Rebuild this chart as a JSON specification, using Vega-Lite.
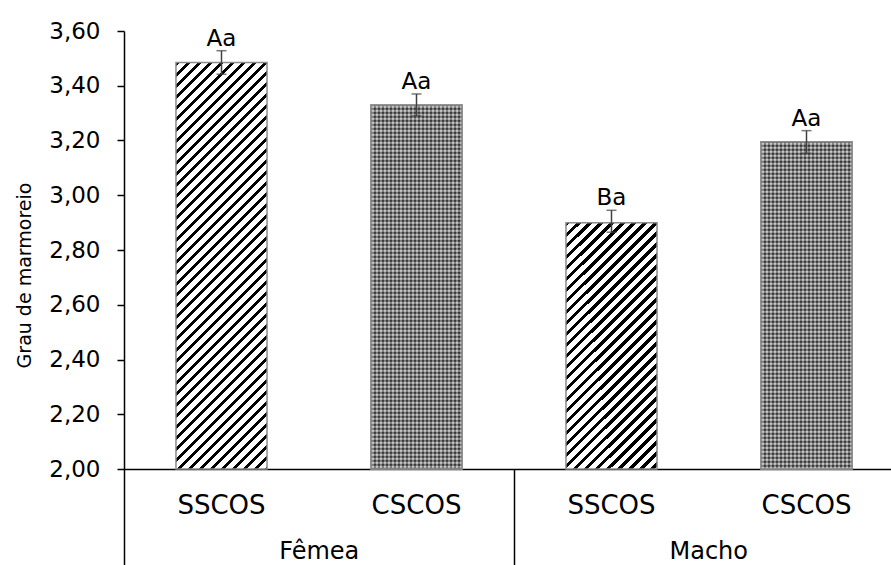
{
"$schema": "https://vega.github.io/schema/vega-lite/v6.json",
"autosize": {"type": "none"},
"width": 767,
"height": 438,
"padding": {"left": 124, "top": 31, "right": 0, "bottom": 96},
"background": "white",
"config": {"view": {"stroke": null}, "font": "DejaVu Sans"},
"data": {"values": [
{"key": "Fêmea|SSCOS", "sex": "Fêmea", "trat": "SSCOS", "value": 3.485, "lo": 3.442, "hi": 3.528, "label": "Aa"},
{"key": "Fêmea|CSCOS", "sex": "Fêmea", "trat": "CSCOS", "value": 3.33, "lo": 3.29, "hi": 3.37, "label": "Aa"},
{"key": "Macho|SSCOS", "sex": "Macho", "trat": "SSCOS", "value": 2.90, "lo": 2.865, "hi": 2.945, "label": "Ba"},
{"key": "Macho|CSCOS", "sex": "Macho", "trat": "CSCOS", "value": 3.195, "lo": 3.153, "hi": 3.236, "label": "Aa"}
]},
"layer": [
{
"encoding": {
"x": {"field": "key", "type": "nominal", "sort": null,
 "scale": {"domain": ["Fêmea|SSCOS", "Fêmea|CSCOS", "Macho|SSCOS", "Macho|CSCOS"], "range": [0, 780], "paddingInner": 0.533, "paddingOuter": 0.2665},
 "axis": {"orient": "bottom", "title": null, "labelExpr": "split(datum.value, '|')[1]", "labelAngle": 0, "labelFontSize": 26, "labelFont": "DejaVu Sans", "labelColor": "#000", "labelPadding": 23, "ticks": false, "tickSize": 0, "domain": true, "domainColor": "#000", "domainWidth": 1.5, "grid": false}},
"y": {"field": "value", "type": "quantitative",
 "scale": {"domain": [2, 3.6], "nice": false, "zero": false},
 "axis": {"values": [2, 2.2, 2.4, 2.6, 2.8, 3, 3.2, 3.4, 3.6], "labelExpr": "replace(format(datum.value, '.2f'), '.', ',')", "labelFontSize": 23, "labelFont": "DejaVu Sans", "labelColor": "#000", "labelPadding": 17, "tickSize": 7, "tickColor": "#000", "tickWidth": 1.5, "domainColor": "#000", "domainWidth": 1.5, "grid": false, "title": "Grau de marmoreio", "titleFontSize": 19, "titleFont": "DejaVu Sans", "titleFontWeight": "normal", "titleColor": "#000", "titleX": -90, "titleY": 244, "titleAngle": -90, "titleAlign": "center", "titleBaseline": "bottom"}}
},
"layer": [
{"transform": [{"filter": "datum.key === 'Fêmea|SSCOS'"}],
 "mark": {"type": "bar", "stroke": "#8c8c8c", "strokeWidth": 1.5, "fill": {"gradient": "linear", "x1": 0, "y1": 0, "x2": 0.28843, "y2": 1.28845, "stops": [
{"offset":0,"color":"#000"},{"offset":0.008,"color":"#000"},{"offset":0.008,"color":"#fff"},{"offset":0.02,"color":"#fff"},
{"offset":0.02,"color":"#000"},{"offset":0.028,"color":"#000"},{"offset":0.028,"color":"#fff"},{"offset":0.04,"color":"#fff"},
{"offset":0.04,"color":"#000"},{"offset":0.048,"color":"#000"},{"offset":0.048,"color":"#fff"},{"offset":0.06,"color":"#fff"},
{"offset":0.06,"color":"#000"},{"offset":0.068,"color":"#000"},{"offset":0.068,"color":"#fff"},{"offset":0.08,"color":"#fff"},
{"offset":0.08,"color":"#000"},{"offset":0.088,"color":"#000"},{"offset":0.088,"color":"#fff"},{"offset":0.1,"color":"#fff"},
{"offset":0.1,"color":"#000"},{"offset":0.108,"color":"#000"},{"offset":0.108,"color":"#fff"},{"offset":0.12,"color":"#fff"},
{"offset":0.12,"color":"#000"},{"offset":0.128,"color":"#000"},{"offset":0.128,"color":"#fff"},{"offset":0.14,"color":"#fff"},
{"offset":0.14,"color":"#000"},{"offset":0.148,"color":"#000"},{"offset":0.148,"color":"#fff"},{"offset":0.16,"color":"#fff"},
{"offset":0.16,"color":"#000"},{"offset":0.168,"color":"#000"},{"offset":0.168,"color":"#fff"},{"offset":0.18,"color":"#fff"},
{"offset":0.18,"color":"#000"},{"offset":0.188,"color":"#000"},{"offset":0.188,"color":"#fff"},{"offset":0.2,"color":"#fff"},
{"offset":0.2,"color":"#000"},{"offset":0.208,"color":"#000"},{"offset":0.208,"color":"#fff"},{"offset":0.22,"color":"#fff"},
{"offset":0.22,"color":"#000"},{"offset":0.228,"color":"#000"},{"offset":0.228,"color":"#fff"},{"offset":0.24,"color":"#fff"},
{"offset":0.24,"color":"#000"},{"offset":0.248,"color":"#000"},{"offset":0.248,"color":"#fff"},{"offset":0.26,"color":"#fff"},
{"offset":0.26,"color":"#000"},{"offset":0.268,"color":"#000"},{"offset":0.268,"color":"#fff"},{"offset":0.28,"color":"#fff"},
{"offset":0.28,"color":"#000"},{"offset":0.288,"color":"#000"},{"offset":0.288,"color":"#fff"},{"offset":0.3,"color":"#fff"},
{"offset":0.3,"color":"#000"},{"offset":0.308,"color":"#000"},{"offset":0.308,"color":"#fff"},{"offset":0.32,"color":"#fff"},
{"offset":0.32,"color":"#000"},{"offset":0.328,"color":"#000"},{"offset":0.328,"color":"#fff"},{"offset":0.34,"color":"#fff"},
{"offset":0.34,"color":"#000"},{"offset":0.348,"color":"#000"},{"offset":0.348,"color":"#fff"},{"offset":0.36,"color":"#fff"},
{"offset":0.36,"color":"#000"},{"offset":0.368,"color":"#000"},{"offset":0.368,"color":"#fff"},{"offset":0.38,"color":"#fff"},
{"offset":0.38,"color":"#000"},{"offset":0.388,"color":"#000"},{"offset":0.388,"color":"#fff"},{"offset":0.4,"color":"#fff"},
{"offset":0.4,"color":"#000"},{"offset":0.408,"color":"#000"},{"offset":0.408,"color":"#fff"},{"offset":0.42,"color":"#fff"},
{"offset":0.42,"color":"#000"},{"offset":0.428,"color":"#000"},{"offset":0.428,"color":"#fff"},{"offset":0.44,"color":"#fff"},
{"offset":0.44,"color":"#000"},{"offset":0.448,"color":"#000"},{"offset":0.448,"color":"#fff"},{"offset":0.46,"color":"#fff"},
{"offset":0.46,"color":"#000"},{"offset":0.468,"color":"#000"},{"offset":0.468,"color":"#fff"},{"offset":0.48,"color":"#fff"},
{"offset":0.48,"color":"#000"},{"offset":0.488,"color":"#000"},{"offset":0.488,"color":"#fff"},{"offset":0.5,"color":"#fff"},
{"offset":0.5,"color":"#000"},{"offset":0.508,"color":"#000"},{"offset":0.508,"color":"#fff"},{"offset":0.52,"color":"#fff"},
{"offset":0.52,"color":"#000"},{"offset":0.528,"color":"#000"},{"offset":0.528,"color":"#fff"},{"offset":0.54,"color":"#fff"},
{"offset":0.54,"color":"#000"},{"offset":0.548,"color":"#000"},{"offset":0.548,"color":"#fff"},{"offset":0.56,"color":"#fff"},
{"offset":0.56,"color":"#000"},{"offset":0.568,"color":"#000"},{"offset":0.568,"color":"#fff"},{"offset":0.58,"color":"#fff"},
{"offset":0.58,"color":"#000"},{"offset":0.588,"color":"#000"},{"offset":0.588,"color":"#fff"},{"offset":0.6,"color":"#fff"},
{"offset":0.6,"color":"#000"},{"offset":0.608,"color":"#000"},{"offset":0.608,"color":"#fff"},{"offset":0.62,"color":"#fff"},
{"offset":0.62,"color":"#000"},{"offset":0.628,"color":"#000"},{"offset":0.628,"color":"#fff"},{"offset":0.64,"color":"#fff"},
{"offset":0.64,"color":"#000"},{"offset":0.648,"color":"#000"},{"offset":0.648,"color":"#fff"},{"offset":0.66,"color":"#fff"},
{"offset":0.66,"color":"#000"},{"offset":0.668,"color":"#000"},{"offset":0.668,"color":"#fff"},{"offset":0.68,"color":"#fff"},
{"offset":0.68,"color":"#000"},{"offset":0.688,"color":"#000"},{"offset":0.688,"color":"#fff"},{"offset":0.7,"color":"#fff"},
{"offset":0.7,"color":"#000"},{"offset":0.708,"color":"#000"},{"offset":0.708,"color":"#fff"},{"offset":0.72,"color":"#fff"},
{"offset":0.72,"color":"#000"},{"offset":0.728,"color":"#000"},{"offset":0.728,"color":"#fff"},{"offset":0.74,"color":"#fff"},
{"offset":0.74,"color":"#000"},{"offset":0.748,"color":"#000"},{"offset":0.748,"color":"#fff"},{"offset":0.76,"color":"#fff"},
{"offset":0.76,"color":"#000"},{"offset":0.768,"color":"#000"},{"offset":0.768,"color":"#fff"},{"offset":0.78,"color":"#fff"},
{"offset":0.78,"color":"#000"},{"offset":0.788,"color":"#000"},{"offset":0.788,"color":"#fff"},{"offset":0.8,"color":"#fff"},
{"offset":0.8,"color":"#000"},{"offset":0.808,"color":"#000"},{"offset":0.808,"color":"#fff"},{"offset":0.82,"color":"#fff"},
{"offset":0.82,"color":"#000"},{"offset":0.828,"color":"#000"},{"offset":0.828,"color":"#fff"},{"offset":0.84,"color":"#fff"},
{"offset":0.84,"color":"#000"},{"offset":0.848,"color":"#000"},{"offset":0.848,"color":"#fff"},{"offset":0.86,"color":"#fff"},
{"offset":0.86,"color":"#000"},{"offset":0.868,"color":"#000"},{"offset":0.868,"color":"#fff"},{"offset":0.88,"color":"#fff"},
{"offset":0.88,"color":"#000"},{"offset":0.888,"color":"#000"},{"offset":0.888,"color":"#fff"},{"offset":0.9,"color":"#fff"},
{"offset":0.9,"color":"#000"},{"offset":0.908,"color":"#000"},{"offset":0.908,"color":"#fff"},{"offset":0.92,"color":"#fff"}
 ]}},
 "encoding": {"y2": {"datum": 2}}},
{"transform": [{"filter": "datum.key === 'Macho|SSCOS'"}],
 "mark": {"type": "bar", "stroke": "#8c8c8c", "strokeWidth": 1.5, "fill": {"gradient": "linear", "x1": 0, "y1": 0, "x2": 0.72542, "y2": 1.96423, "stops": [
{"offset":0,"color":"#000"},{"offset":0.008,"color":"#000"},{"offset":0.008,"color":"#fff"},{"offset":0.02,"color":"#fff"},
{"offset":0.02,"color":"#000"},{"offset":0.028,"color":"#000"},{"offset":0.028,"color":"#fff"},{"offset":0.04,"color":"#fff"},
{"offset":0.04,"color":"#000"},{"offset":0.048,"color":"#000"},{"offset":0.048,"color":"#fff"},{"offset":0.06,"color":"#fff"},
{"offset":0.06,"color":"#000"},{"offset":0.068,"color":"#000"},{"offset":0.068,"color":"#fff"},{"offset":0.08,"color":"#fff"},
{"offset":0.08,"color":"#000"},{"offset":0.088,"color":"#000"},{"offset":0.088,"color":"#fff"},{"offset":0.1,"color":"#fff"},
{"offset":0.1,"color":"#000"},{"offset":0.108,"color":"#000"},{"offset":0.108,"color":"#fff"},{"offset":0.12,"color":"#fff"},
{"offset":0.12,"color":"#000"},{"offset":0.128,"color":"#000"},{"offset":0.128,"color":"#fff"},{"offset":0.14,"color":"#fff"},
{"offset":0.14,"color":"#000"},{"offset":0.148,"color":"#000"},{"offset":0.148,"color":"#fff"},{"offset":0.16,"color":"#fff"},
{"offset":0.16,"color":"#000"},{"offset":0.168,"color":"#000"},{"offset":0.168,"color":"#fff"},{"offset":0.18,"color":"#fff"},
{"offset":0.18,"color":"#000"},{"offset":0.188,"color":"#000"},{"offset":0.188,"color":"#fff"},{"offset":0.2,"color":"#fff"},
{"offset":0.2,"color":"#000"},{"offset":0.208,"color":"#000"},{"offset":0.208,"color":"#fff"},{"offset":0.22,"color":"#fff"},
{"offset":0.22,"color":"#000"},{"offset":0.228,"color":"#000"},{"offset":0.228,"color":"#fff"},{"offset":0.24,"color":"#fff"},
{"offset":0.24,"color":"#000"},{"offset":0.248,"color":"#000"},{"offset":0.248,"color":"#fff"},{"offset":0.26,"color":"#fff"},
{"offset":0.26,"color":"#000"},{"offset":0.268,"color":"#000"},{"offset":0.268,"color":"#fff"},{"offset":0.28,"color":"#fff"},
{"offset":0.28,"color":"#000"},{"offset":0.288,"color":"#000"},{"offset":0.288,"color":"#fff"},{"offset":0.3,"color":"#fff"},
{"offset":0.3,"color":"#000"},{"offset":0.308,"color":"#000"},{"offset":0.308,"color":"#fff"},{"offset":0.32,"color":"#fff"},
{"offset":0.32,"color":"#000"},{"offset":0.328,"color":"#000"},{"offset":0.328,"color":"#fff"},{"offset":0.34,"color":"#fff"},
{"offset":0.34,"color":"#000"},{"offset":0.348,"color":"#000"},{"offset":0.348,"color":"#fff"},{"offset":0.36,"color":"#fff"},
{"offset":0.36,"color":"#000"},{"offset":0.368,"color":"#000"},{"offset":0.368,"color":"#fff"},{"offset":0.38,"color":"#fff"},
{"offset":0.38,"color":"#000"},{"offset":0.388,"color":"#000"},{"offset":0.388,"color":"#fff"},{"offset":0.4,"color":"#fff"},
{"offset":0.4,"color":"#000"},{"offset":0.408,"color":"#000"},{"offset":0.408,"color":"#fff"},{"offset":0.42,"color":"#fff"},
{"offset":0.42,"color":"#000"},{"offset":0.428,"color":"#000"},{"offset":0.428,"color":"#fff"},{"offset":0.44,"color":"#fff"},
{"offset":0.44,"color":"#000"},{"offset":0.448,"color":"#000"},{"offset":0.448,"color":"#fff"},{"offset":0.46,"color":"#fff"},
{"offset":0.46,"color":"#000"},{"offset":0.468,"color":"#000"},{"offset":0.468,"color":"#fff"},{"offset":0.48,"color":"#fff"},
{"offset":0.48,"color":"#000"},{"offset":0.488,"color":"#000"},{"offset":0.488,"color":"#fff"},{"offset":0.5,"color":"#fff"},
{"offset":0.5,"color":"#000"},{"offset":0.508,"color":"#000"},{"offset":0.508,"color":"#fff"},{"offset":0.52,"color":"#fff"},
{"offset":0.52,"color":"#000"},{"offset":0.528,"color":"#000"},{"offset":0.528,"color":"#fff"},{"offset":0.54,"color":"#fff"},
{"offset":0.54,"color":"#000"},{"offset":0.548,"color":"#000"},{"offset":0.548,"color":"#fff"},{"offset":0.56,"color":"#fff"},
{"offset":0.56,"color":"#000"},{"offset":0.568,"color":"#000"},{"offset":0.568,"color":"#fff"},{"offset":0.58,"color":"#fff"},
{"offset":0.58,"color":"#000"},{"offset":0.588,"color":"#000"},{"offset":0.588,"color":"#fff"},{"offset":0.6,"color":"#fff"},
{"offset":0.6,"color":"#000"},{"offset":0.608,"color":"#000"},{"offset":0.608,"color":"#fff"},{"offset":0.62,"color":"#fff"},
{"offset":0.62,"color":"#000"},{"offset":0.628,"color":"#000"},{"offset":0.628,"color":"#fff"},{"offset":0.64,"color":"#fff"},
{"offset":0.64,"color":"#000"},{"offset":0.648,"color":"#000"},{"offset":0.648,"color":"#fff"},{"offset":0.66,"color":"#fff"},
{"offset":0.66,"color":"#000"},{"offset":0.668,"color":"#000"},{"offset":0.668,"color":"#fff"},{"offset":0.68,"color":"#fff"},
{"offset":0.68,"color":"#000"},{"offset":0.688,"color":"#000"},{"offset":0.688,"color":"#fff"},{"offset":0.7,"color":"#fff"},
{"offset":0.7,"color":"#000"},{"offset":0.708,"color":"#000"},{"offset":0.708,"color":"#fff"},{"offset":0.72,"color":"#fff"},
{"offset":0.72,"color":"#000"},{"offset":0.728,"color":"#000"},{"offset":0.728,"color":"#fff"},{"offset":0.74,"color":"#fff"},
{"offset":0.74,"color":"#000"},{"offset":0.748,"color":"#000"},{"offset":0.748,"color":"#fff"},{"offset":0.76,"color":"#fff"},
{"offset":0.76,"color":"#000"},{"offset":0.768,"color":"#000"},{"offset":0.768,"color":"#fff"},{"offset":0.78,"color":"#fff"},
{"offset":0.78,"color":"#000"},{"offset":0.788,"color":"#000"},{"offset":0.788,"color":"#fff"},{"offset":0.8,"color":"#fff"},
{"offset":0.8,"color":"#000"},{"offset":0.808,"color":"#000"},{"offset":0.808,"color":"#fff"},{"offset":0.82,"color":"#fff"},
{"offset":0.82,"color":"#000"},{"offset":0.828,"color":"#000"},{"offset":0.828,"color":"#fff"},{"offset":0.84,"color":"#fff"},
{"offset":0.84,"color":"#000"},{"offset":0.848,"color":"#000"},{"offset":0.848,"color":"#fff"},{"offset":0.86,"color":"#fff"},
{"offset":0.86,"color":"#000"},{"offset":0.868,"color":"#000"},{"offset":0.868,"color":"#fff"},{"offset":0.88,"color":"#fff"},
{"offset":0.88,"color":"#000"},{"offset":0.888,"color":"#000"},{"offset":0.888,"color":"#fff"},{"offset":0.9,"color":"#fff"},
{"offset":0.9,"color":"#000"},{"offset":0.908,"color":"#000"},{"offset":0.908,"color":"#fff"},{"offset":0.92,"color":"#fff"}
 ]}},
 "encoding": {"y2": {"datum": 2}}},
{"transform": [{"filter": "datum.trat === 'CSCOS'"}],
 "mark": {"type": "bar", "stroke": "#8c8c8c", "strokeWidth": 1.5, "fill": {"gradient": "linear", "x1": 0, "y1": 0, "x2": 1.0989, "y2": 0, "stops": [
{"offset":0,"color":"#000"},{"offset":0.02,"color":"#fff"},{"offset":0.04,"color":"#000"},{"offset":0.06,"color":"#fff"},{"offset":0.08,"color":"#000"},
{"offset":0.1,"color":"#fff"},{"offset":0.12,"color":"#000"},{"offset":0.14,"color":"#fff"},{"offset":0.16,"color":"#000"},{"offset":0.18,"color":"#fff"},
{"offset":0.2,"color":"#000"},{"offset":0.22,"color":"#fff"},{"offset":0.24,"color":"#000"},{"offset":0.26,"color":"#fff"},{"offset":0.28,"color":"#000"},
{"offset":0.3,"color":"#fff"},{"offset":0.32,"color":"#000"},{"offset":0.34,"color":"#fff"},{"offset":0.36,"color":"#000"},{"offset":0.38,"color":"#fff"},
{"offset":0.4,"color":"#000"},{"offset":0.42,"color":"#fff"},{"offset":0.44,"color":"#000"},{"offset":0.46,"color":"#fff"},{"offset":0.48,"color":"#000"},
{"offset":0.5,"color":"#fff"},{"offset":0.52,"color":"#000"},{"offset":0.54,"color":"#fff"},{"offset":0.56,"color":"#000"},{"offset":0.58,"color":"#fff"},
{"offset":0.6,"color":"#000"},{"offset":0.62,"color":"#fff"},{"offset":0.64,"color":"#000"},{"offset":0.66,"color":"#fff"},{"offset":0.68,"color":"#000"},
{"offset":0.7,"color":"#fff"},{"offset":0.72,"color":"#000"},{"offset":0.74,"color":"#fff"},{"offset":0.76,"color":"#000"},{"offset":0.78,"color":"#fff"},
{"offset":0.8,"color":"#000"},{"offset":0.82,"color":"#fff"},{"offset":0.84,"color":"#000"},{"offset":0.86,"color":"#fff"},{"offset":0.88,"color":"#000"},
{"offset":0.9,"color":"#fff"},{"offset":0.92,"color":"#000"},{"offset":0.94,"color":"#fff"},{"offset":0.96,"color":"#000"},{"offset":0.98,"color":"#fff"},
{"offset":1,"color":"#000"}
 ]}},
 "encoding": {"y2": {"datum": 2}}},
{"transform": [{"filter": "datum.key === 'Fêmea|CSCOS'"}],
 "mark": {"type": "bar", "stroke": "#8c8c8c", "strokeWidth": 1.5, "fillOpacity": 0.5, "fill": {"gradient": "linear", "x1": 0, "y1": 0, "x2": 0, "y2": 1.0986, "stops": [
{"offset":0,"color":"#000"},{"offset":0.005,"color":"#fff"},{"offset":0.01,"color":"#000"},{"offset":0.015,"color":"#fff"},{"offset":0.02,"color":"#000"},{"offset":0.025,"color":"#fff"},{"offset":0.03,"color":"#000"},{"offset":0.035,"color":"#fff"},{"offset":0.04,"color":"#000"},{"offset":0.045,"color":"#fff"},
{"offset":0.05,"color":"#000"},{"offset":0.055,"color":"#fff"},{"offset":0.06,"color":"#000"},{"offset":0.065,"color":"#fff"},{"offset":0.07,"color":"#000"},{"offset":0.075,"color":"#fff"},{"offset":0.08,"color":"#000"},{"offset":0.085,"color":"#fff"},{"offset":0.09,"color":"#000"},{"offset":0.095,"color":"#fff"},
{"offset":0.1,"color":"#000"},{"offset":0.105,"color":"#fff"},{"offset":0.11,"color":"#000"},{"offset":0.115,"color":"#fff"},{"offset":0.12,"color":"#000"},{"offset":0.125,"color":"#fff"},{"offset":0.13,"color":"#000"},{"offset":0.135,"color":"#fff"},{"offset":0.14,"color":"#000"},{"offset":0.145,"color":"#fff"},
{"offset":0.15,"color":"#000"},{"offset":0.155,"color":"#fff"},{"offset":0.16,"color":"#000"},{"offset":0.165,"color":"#fff"},{"offset":0.17,"color":"#000"},{"offset":0.175,"color":"#fff"},{"offset":0.18,"color":"#000"},{"offset":0.185,"color":"#fff"},{"offset":0.19,"color":"#000"},{"offset":0.195,"color":"#fff"},
{"offset":0.2,"color":"#000"},{"offset":0.205,"color":"#fff"},{"offset":0.21,"color":"#000"},{"offset":0.215,"color":"#fff"},{"offset":0.22,"color":"#000"},{"offset":0.225,"color":"#fff"},{"offset":0.23,"color":"#000"},{"offset":0.235,"color":"#fff"},{"offset":0.24,"color":"#000"},{"offset":0.245,"color":"#fff"},
{"offset":0.25,"color":"#000"},{"offset":0.255,"color":"#fff"},{"offset":0.26,"color":"#000"},{"offset":0.265,"color":"#fff"},{"offset":0.27,"color":"#000"},{"offset":0.275,"color":"#fff"},{"offset":0.28,"color":"#000"},{"offset":0.285,"color":"#fff"},{"offset":0.29,"color":"#000"},{"offset":0.295,"color":"#fff"},
{"offset":0.3,"color":"#000"},{"offset":0.305,"color":"#fff"},{"offset":0.31,"color":"#000"},{"offset":0.315,"color":"#fff"},{"offset":0.32,"color":"#000"},{"offset":0.325,"color":"#fff"},{"offset":0.33,"color":"#000"},{"offset":0.335,"color":"#fff"},{"offset":0.34,"color":"#000"},{"offset":0.345,"color":"#fff"},
{"offset":0.35,"color":"#000"},{"offset":0.355,"color":"#fff"},{"offset":0.36,"color":"#000"},{"offset":0.365,"color":"#fff"},{"offset":0.37,"color":"#000"},{"offset":0.375,"color":"#fff"},{"offset":0.38,"color":"#000"},{"offset":0.385,"color":"#fff"},{"offset":0.39,"color":"#000"},{"offset":0.395,"color":"#fff"},
{"offset":0.4,"color":"#000"},{"offset":0.405,"color":"#fff"},{"offset":0.41,"color":"#000"},{"offset":0.415,"color":"#fff"},{"offset":0.42,"color":"#000"},{"offset":0.425,"color":"#fff"},{"offset":0.43,"color":"#000"},{"offset":0.435,"color":"#fff"},{"offset":0.44,"color":"#000"},{"offset":0.445,"color":"#fff"},
{"offset":0.45,"color":"#000"},{"offset":0.455,"color":"#fff"},{"offset":0.46,"color":"#000"},{"offset":0.465,"color":"#fff"},{"offset":0.47,"color":"#000"},{"offset":0.475,"color":"#fff"},{"offset":0.48,"color":"#000"},{"offset":0.485,"color":"#fff"},{"offset":0.49,"color":"#000"},{"offset":0.495,"color":"#fff"},
{"offset":0.5,"color":"#000"},{"offset":0.505,"color":"#fff"},{"offset":0.51,"color":"#000"},{"offset":0.515,"color":"#fff"},{"offset":0.52,"color":"#000"},{"offset":0.525,"color":"#fff"},{"offset":0.53,"color":"#000"},{"offset":0.535,"color":"#fff"},{"offset":0.54,"color":"#000"},{"offset":0.545,"color":"#fff"},
{"offset":0.55,"color":"#000"},{"offset":0.555,"color":"#fff"},{"offset":0.56,"color":"#000"},{"offset":0.565,"color":"#fff"},{"offset":0.57,"color":"#000"},{"offset":0.575,"color":"#fff"},{"offset":0.58,"color":"#000"},{"offset":0.585,"color":"#fff"},{"offset":0.59,"color":"#000"},{"offset":0.595,"color":"#fff"},
{"offset":0.6,"color":"#000"},{"offset":0.605,"color":"#fff"},{"offset":0.61,"color":"#000"},{"offset":0.615,"color":"#fff"},{"offset":0.62,"color":"#000"},{"offset":0.625,"color":"#fff"},{"offset":0.63,"color":"#000"},{"offset":0.635,"color":"#fff"},{"offset":0.64,"color":"#000"},{"offset":0.645,"color":"#fff"},
{"offset":0.65,"color":"#000"},{"offset":0.655,"color":"#fff"},{"offset":0.66,"color":"#000"},{"offset":0.665,"color":"#fff"},{"offset":0.67,"color":"#000"},{"offset":0.675,"color":"#fff"},{"offset":0.68,"color":"#000"},{"offset":0.685,"color":"#fff"},{"offset":0.69,"color":"#000"},{"offset":0.695,"color":"#fff"},
{"offset":0.7,"color":"#000"},{"offset":0.705,"color":"#fff"},{"offset":0.71,"color":"#000"},{"offset":0.715,"color":"#fff"},{"offset":0.72,"color":"#000"},{"offset":0.725,"color":"#fff"},{"offset":0.73,"color":"#000"},{"offset":0.735,"color":"#fff"},{"offset":0.74,"color":"#000"},{"offset":0.745,"color":"#fff"},
{"offset":0.75,"color":"#000"},{"offset":0.755,"color":"#fff"},{"offset":0.76,"color":"#000"},{"offset":0.765,"color":"#fff"},{"offset":0.77,"color":"#000"},{"offset":0.775,"color":"#fff"},{"offset":0.78,"color":"#000"},{"offset":0.785,"color":"#fff"},{"offset":0.79,"color":"#000"},{"offset":0.795,"color":"#fff"},
{"offset":0.8,"color":"#000"},{"offset":0.805,"color":"#fff"},{"offset":0.81,"color":"#000"},{"offset":0.815,"color":"#fff"},{"offset":0.82,"color":"#000"},{"offset":0.825,"color":"#fff"},{"offset":0.83,"color":"#000"},{"offset":0.835,"color":"#fff"},{"offset":0.84,"color":"#000"},{"offset":0.845,"color":"#fff"},
{"offset":0.85,"color":"#000"},{"offset":0.855,"color":"#fff"},{"offset":0.86,"color":"#000"},{"offset":0.865,"color":"#fff"},{"offset":0.87,"color":"#000"},{"offset":0.875,"color":"#fff"},{"offset":0.88,"color":"#000"},{"offset":0.885,"color":"#fff"},{"offset":0.89,"color":"#000"},{"offset":0.895,"color":"#fff"},
{"offset":0.9,"color":"#000"},{"offset":0.905,"color":"#fff"},{"offset":0.91,"color":"#000"},{"offset":0.915,"color":"#fff"},{"offset":0.92,"color":"#000"}
 ]}},
 "encoding": {"y2": {"datum": 2}}},
{"transform": [{"filter": "datum.key === 'Macho|CSCOS'"}],
 "mark": {"type": "bar", "stroke": "#8c8c8c", "strokeWidth": 1.5, "fillOpacity": 0.5, "fill": {"gradient": "linear", "x1": 0, "y1": 0, "x2": 0, "y2": 1.2229, "stops": [
{"offset":0,"color":"#000"},{"offset":0.005,"color":"#fff"},{"offset":0.01,"color":"#000"},{"offset":0.015,"color":"#fff"},{"offset":0.02,"color":"#000"},{"offset":0.025,"color":"#fff"},{"offset":0.03,"color":"#000"},{"offset":0.035,"color":"#fff"},{"offset":0.04,"color":"#000"},{"offset":0.045,"color":"#fff"},
{"offset":0.05,"color":"#000"},{"offset":0.055,"color":"#fff"},{"offset":0.06,"color":"#000"},{"offset":0.065,"color":"#fff"},{"offset":0.07,"color":"#000"},{"offset":0.075,"color":"#fff"},{"offset":0.08,"color":"#000"},{"offset":0.085,"color":"#fff"},{"offset":0.09,"color":"#000"},{"offset":0.095,"color":"#fff"},
{"offset":0.1,"color":"#000"},{"offset":0.105,"color":"#fff"},{"offset":0.11,"color":"#000"},{"offset":0.115,"color":"#fff"},{"offset":0.12,"color":"#000"},{"offset":0.125,"color":"#fff"},{"offset":0.13,"color":"#000"},{"offset":0.135,"color":"#fff"},{"offset":0.14,"color":"#000"},{"offset":0.145,"color":"#fff"},
{"offset":0.15,"color":"#000"},{"offset":0.155,"color":"#fff"},{"offset":0.16,"color":"#000"},{"offset":0.165,"color":"#fff"},{"offset":0.17,"color":"#000"},{"offset":0.175,"color":"#fff"},{"offset":0.18,"color":"#000"},{"offset":0.185,"color":"#fff"},{"offset":0.19,"color":"#000"},{"offset":0.195,"color":"#fff"},
{"offset":0.2,"color":"#000"},{"offset":0.205,"color":"#fff"},{"offset":0.21,"color":"#000"},{"offset":0.215,"color":"#fff"},{"offset":0.22,"color":"#000"},{"offset":0.225,"color":"#fff"},{"offset":0.23,"color":"#000"},{"offset":0.235,"color":"#fff"},{"offset":0.24,"color":"#000"},{"offset":0.245,"color":"#fff"},
{"offset":0.25,"color":"#000"},{"offset":0.255,"color":"#fff"},{"offset":0.26,"color":"#000"},{"offset":0.265,"color":"#fff"},{"offset":0.27,"color":"#000"},{"offset":0.275,"color":"#fff"},{"offset":0.28,"color":"#000"},{"offset":0.285,"color":"#fff"},{"offset":0.29,"color":"#000"},{"offset":0.295,"color":"#fff"},
{"offset":0.3,"color":"#000"},{"offset":0.305,"color":"#fff"},{"offset":0.31,"color":"#000"},{"offset":0.315,"color":"#fff"},{"offset":0.32,"color":"#000"},{"offset":0.325,"color":"#fff"},{"offset":0.33,"color":"#000"},{"offset":0.335,"color":"#fff"},{"offset":0.34,"color":"#000"},{"offset":0.345,"color":"#fff"},
{"offset":0.35,"color":"#000"},{"offset":0.355,"color":"#fff"},{"offset":0.36,"color":"#000"},{"offset":0.365,"color":"#fff"},{"offset":0.37,"color":"#000"},{"offset":0.375,"color":"#fff"},{"offset":0.38,"color":"#000"},{"offset":0.385,"color":"#fff"},{"offset":0.39,"color":"#000"},{"offset":0.395,"color":"#fff"},
{"offset":0.4,"color":"#000"},{"offset":0.405,"color":"#fff"},{"offset":0.41,"color":"#000"},{"offset":0.415,"color":"#fff"},{"offset":0.42,"color":"#000"},{"offset":0.425,"color":"#fff"},{"offset":0.43,"color":"#000"},{"offset":0.435,"color":"#fff"},{"offset":0.44,"color":"#000"},{"offset":0.445,"color":"#fff"},
{"offset":0.45,"color":"#000"},{"offset":0.455,"color":"#fff"},{"offset":0.46,"color":"#000"},{"offset":0.465,"color":"#fff"},{"offset":0.47,"color":"#000"},{"offset":0.475,"color":"#fff"},{"offset":0.48,"color":"#000"},{"offset":0.485,"color":"#fff"},{"offset":0.49,"color":"#000"},{"offset":0.495,"color":"#fff"},
{"offset":0.5,"color":"#000"},{"offset":0.505,"color":"#fff"},{"offset":0.51,"color":"#000"},{"offset":0.515,"color":"#fff"},{"offset":0.52,"color":"#000"},{"offset":0.525,"color":"#fff"},{"offset":0.53,"color":"#000"},{"offset":0.535,"color":"#fff"},{"offset":0.54,"color":"#000"},{"offset":0.545,"color":"#fff"},
{"offset":0.55,"color":"#000"},{"offset":0.555,"color":"#fff"},{"offset":0.56,"color":"#000"},{"offset":0.565,"color":"#fff"},{"offset":0.57,"color":"#000"},{"offset":0.575,"color":"#fff"},{"offset":0.58,"color":"#000"},{"offset":0.585,"color":"#fff"},{"offset":0.59,"color":"#000"},{"offset":0.595,"color":"#fff"},
{"offset":0.6,"color":"#000"},{"offset":0.605,"color":"#fff"},{"offset":0.61,"color":"#000"},{"offset":0.615,"color":"#fff"},{"offset":0.62,"color":"#000"},{"offset":0.625,"color":"#fff"},{"offset":0.63,"color":"#000"},{"offset":0.635,"color":"#fff"},{"offset":0.64,"color":"#000"},{"offset":0.645,"color":"#fff"},
{"offset":0.65,"color":"#000"},{"offset":0.655,"color":"#fff"},{"offset":0.66,"color":"#000"},{"offset":0.665,"color":"#fff"},{"offset":0.67,"color":"#000"},{"offset":0.675,"color":"#fff"},{"offset":0.68,"color":"#000"},{"offset":0.685,"color":"#fff"},{"offset":0.69,"color":"#000"},{"offset":0.695,"color":"#fff"},
{"offset":0.7,"color":"#000"},{"offset":0.705,"color":"#fff"},{"offset":0.71,"color":"#000"},{"offset":0.715,"color":"#fff"},{"offset":0.72,"color":"#000"},{"offset":0.725,"color":"#fff"},{"offset":0.73,"color":"#000"},{"offset":0.735,"color":"#fff"},{"offset":0.74,"color":"#000"},{"offset":0.745,"color":"#fff"},
{"offset":0.75,"color":"#000"},{"offset":0.755,"color":"#fff"},{"offset":0.76,"color":"#000"},{"offset":0.765,"color":"#fff"},{"offset":0.77,"color":"#000"},{"offset":0.775,"color":"#fff"},{"offset":0.78,"color":"#000"},{"offset":0.785,"color":"#fff"},{"offset":0.79,"color":"#000"},{"offset":0.795,"color":"#fff"},
{"offset":0.8,"color":"#000"},{"offset":0.805,"color":"#fff"},{"offset":0.81,"color":"#000"},{"offset":0.815,"color":"#fff"},{"offset":0.82,"color":"#000"},{"offset":0.825,"color":"#fff"},{"offset":0.83,"color":"#000"}
 ]}},
 "encoding": {"y2": {"datum": 2}}},
{"mark": {"type": "rule", "color": "#404040", "strokeWidth": 1.5},
 "encoding": {"y": {"field": "lo", "type": "quantitative"}, "y2": {"field": "hi"}}},
{"mark": {"type": "tick", "color": "#404040", "size": 10, "thickness": 1.5},
 "encoding": {"y": {"field": "lo", "type": "quantitative"}}},
{"mark": {"type": "tick", "color": "#404040", "size": 10, "thickness": 1.5},
 "encoding": {"y": {"field": "hi", "type": "quantitative"}}},
{"mark": {"type": "text", "font": "DejaVu Sans", "fontSize": 23, "color": "#000", "baseline": "alphabetic", "dy": -5},
 "encoding": {"y": {"field": "hi", "type": "quantitative"}, "text": {"field": "label"}}}
]
},
{"mark": {"type": "bar", "opacity": 0},
 "encoding": {
  "x": {"field": "sex", "type": "nominal", "sort": null,
   "scale": {"domain": ["Fêmea", "Macho"], "range": [0, 779], "paddingInner": 0, "paddingOuter": 0},
   "axis": {"orient": "bottom", "title": null, "domain": false, "ticks": true, "tickBand": "extent", "tickSize": 96, "tickColor": "#000", "tickWidth": 1.5, "labelAngle": 0, "labelFontSize": 24, "labelFont": "DejaVu Sans", "labelColor": "#000", "labelPadding": -26, "grid": false}},
  "y": {"datum": 2, "type": "quantitative"}, "y2": {"datum": 2}}}
],
"resolve": {"scale": {"x": "independent"}, "axis": {"x": "independent"}}
}
